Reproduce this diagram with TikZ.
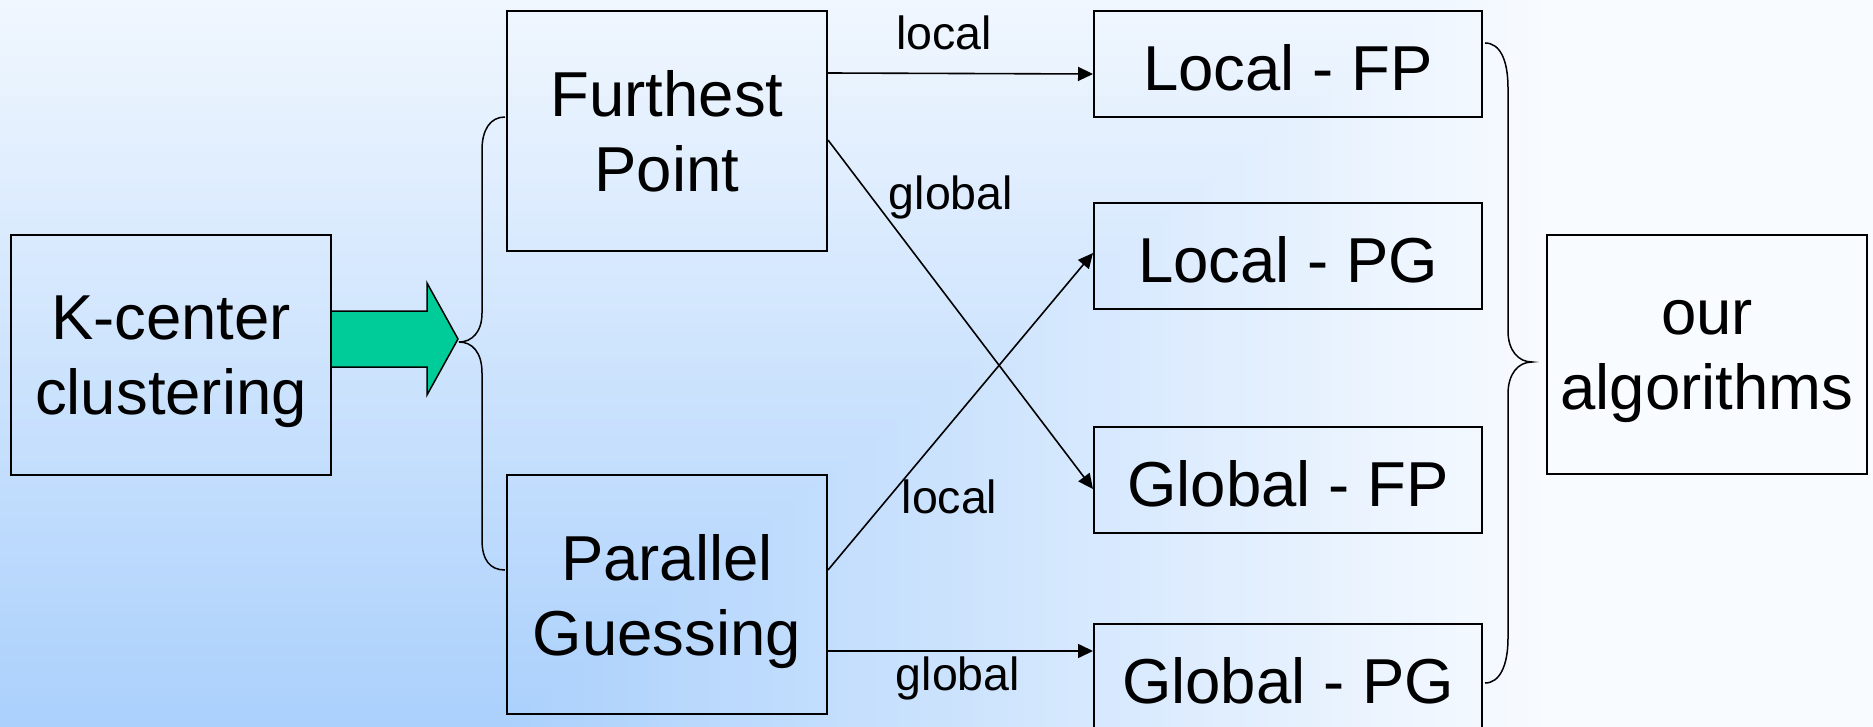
\documentclass[tikz,border=0pt]{standalone}
\usepackage{fontspec}
\setmainfont{Liberation Sans}
\usetikzlibrary{arrows.meta}
\definecolor{bgb}{RGB}{170,208,252}
\definecolor{bgw}{RGB}{248,251,255}
\definecolor{arrowgreen}{RGB}{0,204,153}
\newcommand\bigfnt{\fontsize{63.5}{75}\selectfont}
\newcommand\lblfnt{\fontsize{46.5}{55}\selectfont}
\begin{document}
\begin{tikzpicture}[x=1pt,y=-1pt,
  box/.style={draw,line width=2pt,inner sep=0pt,align=center,font=\bigfnt},
  bigbox/.style={box,minimum width=320pt,minimum height=240pt},
  resbox/.style={box,minimum width=388pt,minimum height=106pt,text height=53pt,text depth=0pt},
  conn/.style={line width=1.6pt,-{Triangle[length=15pt,width=14pt]}},
  lbl/.style={font=\lblfnt,inner sep=0pt},
  bracepath/.style={line width=1.5pt}]
\useasboundingbox (0,0) rectangle (1873,727);
% background gradient (from bottom-left corner)
\begin{scope}
\clip (0,0) rectangle (1873,727);
\fill[bgw] (0,0) rectangle (1873,727);
\foreach \i in {100,99,...,0}{
  \pgfmathsetmacro{\xr}{500+10.5*\i}
  \pgfmathsetmacro{\yt}{727-8.08*\i}
  \fill[bgw!\i!bgb] (0,727) rectangle (\xr,\yt);
}
\end{scope}
% boxes
\node[bigbox] (kc) at (171,355) {K-center\\\smash{clustering}};
\node[bigbox] (fp) at (667,131) {Furthest\\Point};
\node[bigbox,minimum height=239pt] (pg) at (667,594.5) {Parallel\\\smash{Guessing}};
\node[resbox] (lfp) at (1288,64) {Local - FP};
\node[resbox] (lpg) at (1288,256) {Local - PG};
\node[resbox] (gfp) at (1288,479.5) {Global - FP};
\node[resbox] (gpg) at (1288,677) {Global - PG};
\node[bigbox,minimum height=239pt] (our) at (1707,354.5) {our\\\smash{algorithms}};
% green block arrow
\draw[line width=1.5pt,fill=arrowgreen,line join=miter]
  ([yshift=44pt]kc.east) -- (427,311) -- (427,283) -- (458,339) -- (427,395) -- (427,367) -- ([yshift=-12pt]kc.east);
% braces
\draw[bracepath] (505,117) .. controls (490,117) and (482,130) .. (482,150) -- (482,313)
  .. controls (482,332) and (472,342) .. (459,342)
  .. controls (472,342) and (482,352) .. (482,373) -- (482,540)
  .. controls (482,560) and (490,570) .. (505,570);
\draw[bracepath] (1485,43) .. controls (1500,43) and (1508,60) .. (1508,88) -- (1508,331)
  .. controls (1508,350) and (1518,362) .. (1532,362)
  .. controls (1518,362) and (1508,374) .. (1508,394) -- (1508,638)
  .. controls (1508,665) and (1500,683) .. (1485,683);
% connectors
\draw[conn] ([yshift=-63pt]fp.north east) -- ([yshift=-10pt]lfp.west);
\draw[conn] ([yshift=-9pt]fp.east) -- ([yshift=-9.5pt]gfp.west);
\draw[conn] ([yshift=24.5pt]pg.east) -- ([yshift=3pt]lpg.west);
\draw[conn] ([yshift=-56.5pt]pg.east) -- ([yshift=26pt]gpg.west);
% labels
\node[lbl] (l1) at (944,33) {local};
\node[lbl] (l2) at (951,197) {global};
\node[lbl] (l3) at (949.5,497) {local};
\node[lbl] (l4) at (958,678) {global};
\end{tikzpicture}
\end{document}
